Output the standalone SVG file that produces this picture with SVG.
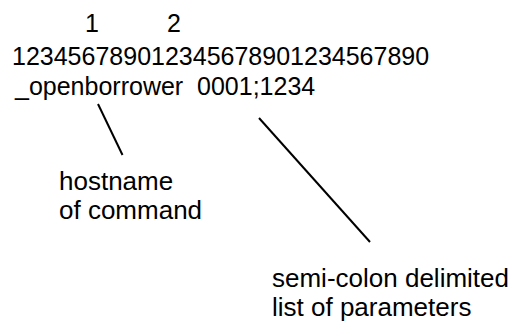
<svg xmlns="http://www.w3.org/2000/svg" width="527" height="322" viewBox="0 0 527 322">
  <style>
    text { font-family: "Liberation Sans", Arial, sans-serif; font-size: 25px; fill: #000; white-space: pre; }
    .label { font-size: 26px; }
    .lead { stroke: #000; stroke-width: 2; fill: none; }
  </style>
  <rect width="527" height="322" fill="#fff"/>
  <g id="ruler">
    <text x="85" y="31.5">1</text>
    <text x="167" y="31.5">2</text>
    <text x="12" y="65">123456789012345678901234567890</text>
  </g>
  <g id="command">
    <text x="15" y="95" xml:space="preserve">_openborrower  0001;1234</text>
  </g>
  <g id="connectors">
    <line class="lead" x1="98" y1="104" x2="122.5" y2="155"/>
    <line class="lead" x1="259" y1="118" x2="370" y2="242"/>
  </g>
  <g id="hostname-label">
    <text class="label" x="59" y="190">hostname</text>
    <text class="label" x="59" y="219">of command</text>
  </g>
  <g id="params-label">
    <text class="label" x="272" y="287">semi-colon delimited</text>
    <text class="label" x="272" y="315.5">list of parameters</text>
  </g>
</svg>
